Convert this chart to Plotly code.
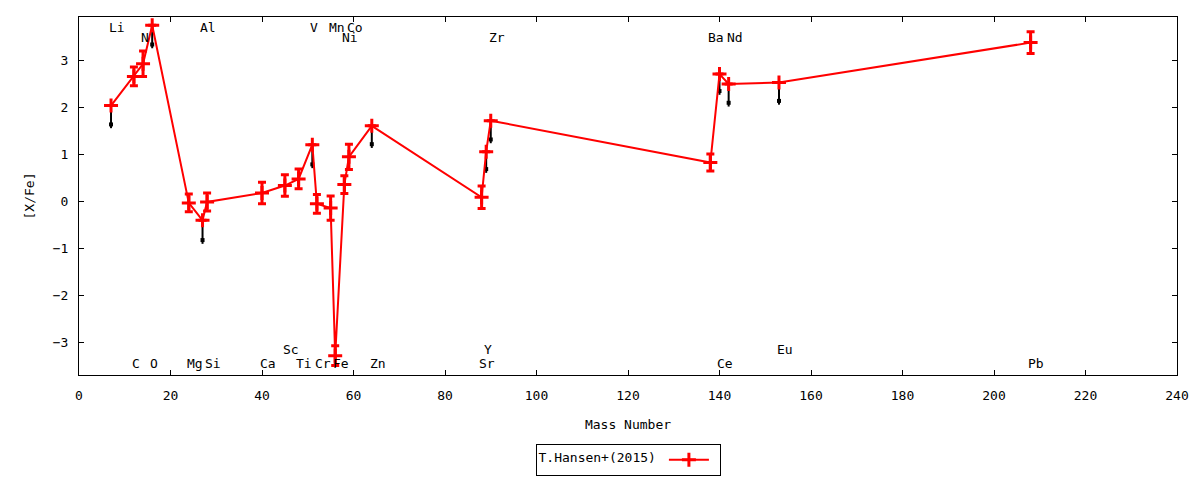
import plotly.graph_objects as go

# ---- data ----
elements = ["Li", "C", "N", "O", "Mg", "Al", "Si", "Ca", "Sc", "Ti", "V", "Cr", "Mn",
            "Fe", "Ni", "Co", "Zn", "Sr", "Y", "Zr", "Ba", "Ce", "Nd", "Eu", "Pb"]
mass = [7, 12, 14, 16, 24, 27, 28, 40, 45, 48, 51, 52, 55,
        56, 58, 59, 64, 88, 89, 90, 138, 140, 142, 153, 208]
xfe = [2.03, 2.65, 2.92, 3.74, -0.04, -0.41, -0.02, 0.17, 0.33, 0.47, 1.20, -0.06, -0.15,
       -3.29, 0.35, 0.94, 1.60, 0.08, 1.05, 1.71, 0.82, 2.70, 2.49, 2.52, 3.37]
xfe_err = [0.0, 0.20, 0.27, 0.0, 0.19, 0.0, 0.19, 0.23, 0.23, 0.21, 0.0, 0.20, 0.26,
           0.21, 0.19, 0.27, 0.0, 0.24, 0.0, 0.0, 0.18, 0.0, 0.0, 0.0, 0.23]

# upper-limit style black markers (value -> lower end)
ul_mass = [7, 16, 27, 51, 64, 89, 90, 140, 142, 153]
ul_top = [2.03, 3.74, -0.41, 1.20, 1.60, 1.05, 1.71, 2.70, 2.49, 2.52]
ul_bottom = [1.55, 3.25, -0.91, 0.70, 1.13, 0.60, 1.23, 2.26, 2.01, 2.05]

# element labels
label_text = ["Li", "N", "Al", "V", "Mn", "Co", "Ni", "Zr", "Ba", "Nd",
              "C", "O", "Mg", "Si", "Ca", "Sc", "Ti", "Cr", "Fe", "Zn", "Sr", "Y", "Ce", "Eu", "Pb"]
label_mass = [7, 14, 27, 51, 55, 59, 58, 90, 138, 142,
              12, 16, 24, 28, 40, 45, 48, 52, 56, 64, 88, 89, 140, 153, 208]
label_y = [3.69, 3.47, 3.69, 3.69, 3.69, 3.69, 3.47, 3.47, 3.47, 3.47,
           -3.45, -3.45, -3.45, -3.45, -3.45, -3.16, -3.45, -3.45, -3.45, -3.45, -3.45, -3.16, -3.45, -3.16, -3.45]

FONT = "DejaVu Sans Mono"

fig = go.Figure()

# black downward limit lines
fig.add_trace(go.Scatter(
    x=ul_mass, y=ul_top, mode="markers",
    marker=dict(size=1, color="black", opacity=0),
    error_y=dict(type="data", symmetric=False, array=[0] * len(ul_top),
                 arrayminus=[t - b for t, b in zip(ul_top, ul_bottom)],
                 color="black", thickness=2, width=0),
    showlegend=False, hoverinfo="skip"))
fig.add_trace(go.Scatter(
    x=ul_mass, y=[b + 0.08 for b in ul_bottom], mode="markers",
    marker=dict(symbol="square", size=4, color="black"),
    showlegend=False, hoverinfo="skip"))

# main series
fig.add_trace(go.Scatter(
    x=mass, y=xfe, mode="lines+markers", name="",
    text=elements,
    line=dict(color="#ff0000", width=2),
    marker=dict(symbol="cross-thin", size=10, color="#ff0000",
                line=dict(color="#ff0000", width=3)),
    error_y=dict(type="data", array=xfe_err, color="#ff0000", thickness=3, width=4),
    showlegend=True))

for t, m, yv in zip(label_text, label_mass, label_y):
    fig.add_annotation(x=m - 0.9, y=yv, text=t, showarrow=False,
                       xanchor="left", yanchor="middle",
                       font=dict(family=FONT, size=13, color="black"))

axis_common = dict(showline=True, linecolor="black", linewidth=1, mirror="ticks",
                   ticks="inside", ticklen=5, tickcolor="black", tickwidth=1,
                   showgrid=False, zeroline=False,
                   tickfont=dict(family=FONT, size=13, color="black"))

fig.update_xaxes(range=[0, 240], dtick=20, tick0=0, ticklabelstandoff=8,
                 title=dict(text="Mass Number", standoff=18,
                            font=dict(family=FONT, size=13, color="black")),
                 **axis_common)
fig.update_yaxes(range=[-3.70, 3.915], dtick=1, tick0=0, ticklabelstandoff=7,
                 title=dict(text="[X/Fe]", standoff=15,
                            font=dict(family=FONT, size=13, color="black")),
                 **axis_common)

fig.update_layout(
    width=1200, height=480,
    margin=dict(l=71, r=31, t=9, b=113, autoexpand=False),
    paper_bgcolor="white", plot_bgcolor="white",
    font=dict(family=FONT, size=13, color="black"),
    legend=dict(x=0.5, xanchor="center", xref="paper",
                y=0.092, yanchor="top", yref="container",
                bordercolor="black", borderwidth=1, bgcolor="white",
                title=dict(text="T.Hansen+(2015)", side="left",
                           font=dict(family=FONT, size=13, color="black")),
                itemwidth=40, font=dict(family=FONT, size=13)),
)

fig.write_html("out.html")
